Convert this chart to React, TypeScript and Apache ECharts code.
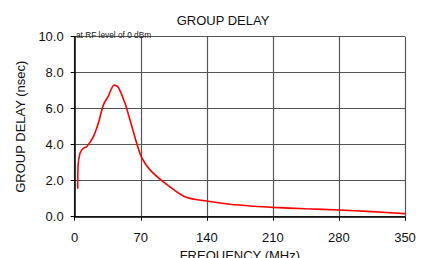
import React, { useEffect, useRef } from "react";
import * as echarts from "echarts";

const freqs = [3.2, 3.5, 5.6, 9.1, 12.7, 19.7, 25, 30.3, 35.6, 42, 46.2, 53.3, 58.6, 65.7, 71, 79.8, 93.9, 116.8, 139.8, 164.5, 190, 210, 245, 280, 315, 350];
const delays = [1.55, 2.78, 3.52, 3.8, 3.89, 4.44, 5.19, 6.2, 6.7, 7.32, 7.19, 6.3, 5.37, 4.08, 3.28, 2.6, 1.94, 1.11, 0.87, 0.69, 0.58, 0.52, 0.44, 0.37, 0.28, 0.17];
const xTicks = [0, 70, 140, 210, 280, 350];
const yTicks = [0, 2, 4, 6, 8, 10];

export default function App() {
  const ref = useRef<HTMLDivElement>(null);
  useEffect(() => {
    if (!ref.current) return;
    const chart = echarts.init(ref.current, null, { renderer: "svg" });
    const font = "Liberation Sans, Arial, sans-serif";
    chart.setOption({
      animation: false,
      backgroundColor: "#fff",
      title: [
        {
          text: "GROUP DELAY",
          left: 218,
          top: 9,
          textAlign: "center",
          textStyle: { fontFamily: font, fontSize: 13, fontWeight: "normal", color: "#111" },
        },
        {
          text: "at RF level of 0 dBm",
          left: 71,
          top: 26,
          textStyle: { fontFamily: font, fontSize: 8.3, fontWeight: "normal", color: "#222" },
        },
      ],
      grid: { left: 74.7, right: 27, top: 36.7, bottom: 41.3, containLabel: false, outerBoundsMode: "none" },
      xAxis: {
        type: "value",
        min: 0,
        max: 350,
        interval: 70,
        name: "FREQUENCY (MHz)",
        nameLocation: "middle",
        nameGap: 29,
        nameTextStyle: { fontFamily: font, fontSize: 13, color: "#111" },
        axisLine: { show: true, onZero: false, lineStyle: { color: "#000", width: 1.5 } },
        axisTick: { show: true, length: 4, lineStyle: { color: "#000" } },
        axisLabel: {
          fontFamily: font,
          fontSize: 13,
          color: "#111",
          margin: 14,
          formatter: (v: number) => (xTicks.includes(v) ? String(v) : ""),
        },
        splitLine: { show: true, lineStyle: { color: "#555", width: 1.2 } },
      },
      yAxis: {
        type: "value",
        min: 0,
        max: 10,
        interval: 2,
        name: "GROUP DELAY (nsec)",
        nameLocation: "middle",
        nameGap: 38,
        nameTextStyle: { fontFamily: font, fontSize: 13, color: "#111" },
        axisLine: { show: true, lineStyle: { color: "#000", width: 1.5 } },
        axisTick: { show: true, length: 4, lineStyle: { color: "#000" } },
        axisLabel: {
          fontFamily: font,
          fontSize: 13,
          color: "#111",
          margin: 11,
          formatter: (v: number) => (yTicks.includes(v) ? v.toFixed(1) : ""),
        },
        splitLine: { show: true, lineStyle: { color: "#555", width: 1.2 } },
      },
      series: [
        {
          type: "line",
          data: freqs.map((f, i) => [f, delays[i]]),
          smooth: 0.3,
          showSymbol: false,
          lineStyle: { color: "#ff0000", width: 1.6 },
        },
      ],
    });
    return () => chart.dispose();
  }, []);
  return <div ref={ref} style={{ width: 432, height: 258, position: "absolute", left: 0, top: 0 }} />;
}
